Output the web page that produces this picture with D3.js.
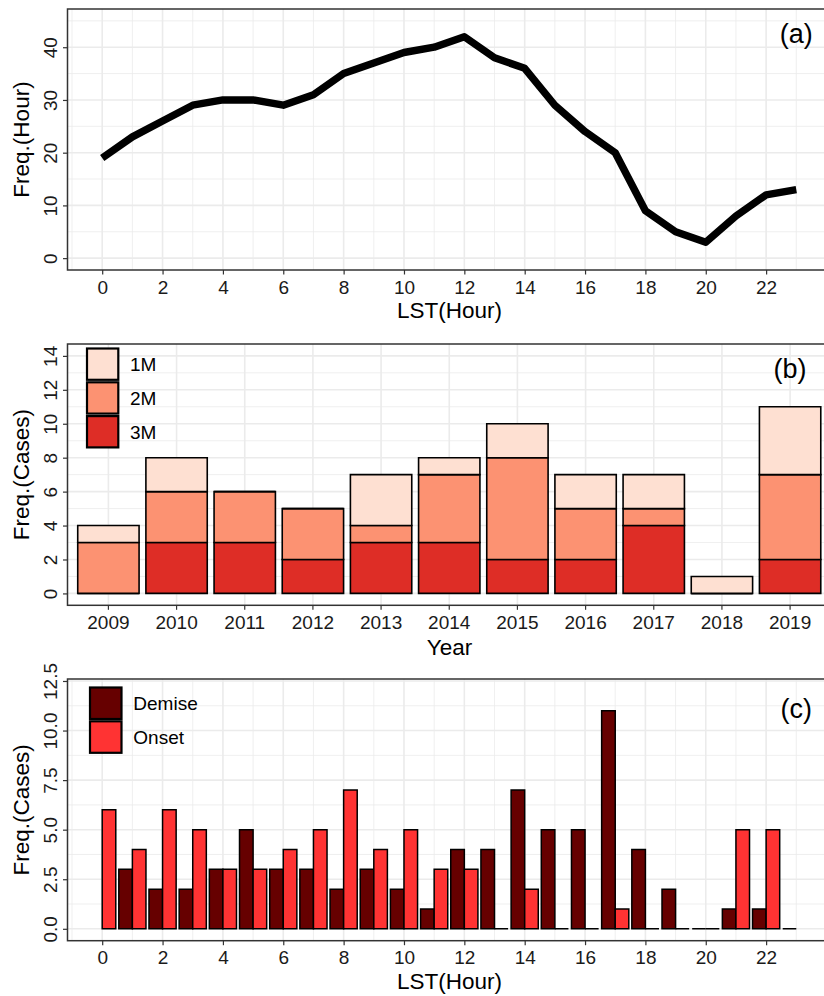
<!DOCTYPE html>
<html>
<head>
<meta charset="utf-8">
<script src="https://cdn.jsdelivr.net/npm/d3@7"></script>
<style>
  html, body { margin: 0; padding: 0; background: #fff; }
  svg { display: block; }
  text { font-family: "Liberation Sans", Arial, Helvetica, sans-serif; }
</style>
</head>
<body>
<svg id="chart" width="824" height="996"></svg>
<script>
// ---------------- DATA ----------------
// Panel (a): diurnal frequency (hours)
const lstHours = [0,1,2,3,4,5,6,7,8,9,10,11,12,13,14,15,16,17,18,19,20,21,22,23];
const freqHour = [19,23,26,29,30,30,29,31,35,37,39,40,42,38,36,29,24,20,9,5,3,8,12,13];
const hourTicks = [0,2,4,6,8,10,12,14,16,18,20,22];
const hourMinor = [-1,1,3,5,7,9,11,13,15,17,19,21,23,24];
const freqHourTicks = [0,10,20,30,40];
const freqHourMinor = [5,15,25,35,45];

// Panel (b): yearly cases, stacked by duration class
const years = ["2009","2010","2011","2012","2013","2014","2015","2016","2017","2018","2019"];
const cases1M = [1,2,0,0,3,1,2,2,2,1,4];
const cases2M = [3,3,3,3,1,4,6,3,1,0,5];
const cases3M = [0,3,3,2,3,3,2,2,4,0,2];
const stackKeys = ["3M","2M","1M"];          // bottom -> top
const legendKeysB = ["1M","2M","3M"];
const caseTicks = [0,2,4,6,8,10,12,14];
const caseMinor = [1,3,5,7,9,11,13];

// Panel (c): onset / demise counts by hour (null = not drawn)
const demiseCases = [null,3,2,2,3,5,3,3,2,3,2,1,4,4,7,5,5,11,4,2,0,1,1,0];
const onsetCases  = [6,4,6,5,3,3,4,5,7,4,5,3,3,0,2,0,0,1,0,0,0,5,5,null];
const groupsC = ["Demise","Onset"];
const caseTicksC = [0,2.5,5,7.5,10,12.5];
const caseMinorC = [1.25,3.75,6.25,8.75,11.25];

// ---------------- STYLE ----------------
const colors = { "1M":"#FEE0D2", "2M":"#FC9272", "3M":"#DE2D26", "Demise":"#660000", "Onset":"#FF3333" };
const L = 67.5, R = 831;
const tickFont = 19, titleFont = 22.5, labelFont = 27, legendFont = 19;
const textCol = "#1a1a1a";

const svg = d3.select("#chart");
svg.append("rect").attr("width",824).attr("height",996).attr("fill","#fff");

function panelFrame(g, top, bottom, xMajor, xMinor, xs, ys, yMajor, yMinor) {
  g.selectAll(".vmin").data(xMinor).join("line")
    .attr("x1", d => xs(d)).attr("x2", d => xs(d)).attr("y1", top).attr("y2", bottom)
    .attr("stroke", "#EBEBEB").attr("stroke-width", 0.8);
  g.selectAll(".hmin").data(yMinor).join("line")
    .attr("x1", L).attr("x2", R).attr("y1", d => ys(d)).attr("y2", d => ys(d))
    .attr("stroke", "#EBEBEB").attr("stroke-width", 0.8);
  g.selectAll(".vmaj").data(xMajor).join("line")
    .attr("x1", d => xs(d)).attr("x2", d => xs(d)).attr("y1", top).attr("y2", bottom)
    .attr("stroke", "#EBEBEB").attr("stroke-width", 1.6);
  g.selectAll(".hmaj").data(yMajor).join("line")
    .attr("x1", L).attr("x2", R).attr("y1", d => ys(d)).attr("y2", d => ys(d))
    .attr("stroke", "#EBEBEB").attr("stroke-width", 1.6);
}

function panelAxes(g, top, bottom, xAxisGen, yAxisGen, xTitle, yTitle, xTitleY) {
  const gx = g.append("g").attr("transform", `translate(0,${bottom})`).call(xAxisGen);
  gx.select(".domain").remove();
  gx.selectAll(".tick line").attr("stroke", "#333").attr("stroke-width", 1.2);
  gx.selectAll(".tick text").attr("y", 23.5).attr("dy", 0)
    .attr("font-size", tickFont).attr("fill", textCol).attr("font-family", "Liberation Sans, Arial, sans-serif");

  const gy = g.append("g").attr("transform", `translate(${L},0)`).call(yAxisGen);
  gy.select(".domain").remove();
  gy.selectAll(".tick line").attr("stroke", "#333").attr("stroke-width", 1.2);
  gy.selectAll(".tick text").attr("x", 0).attr("y", -10.5).attr("dy", 0)
    .attr("transform", "rotate(-90)").attr("text-anchor", "middle")
    .attr("font-size", tickFont).attr("fill", textCol).attr("font-family", "Liberation Sans, Arial, sans-serif");

  g.append("text").attr("x", 449.5).attr("y", xTitleY).attr("text-anchor", "middle")
    .attr("font-size", titleFont).attr("fill", "#000").text(xTitle);
  g.append("text").attr("transform", `translate(28.5,${(top + bottom) / 2}) rotate(-90)`)
    .attr("text-anchor", "middle").attr("font-size", titleFont).attr("fill", "#000").text(yTitle);
}

function border(g, top, bottom) {
  g.append("rect").attr("x", L).attr("y", top).attr("width", R - L).attr("height", bottom - top)
    .attr("fill", "none").attr("stroke", "#333").attr("stroke-width", 1.5);
}

function barPath(x0, x1, y0, y1) {
  return `M${x0},${y0}H${x1}V${y1}H${x0}Z`;
}

// ---------------- PANEL (a) ----------------
{
  const top = 9, bottom = 270;
  const g = svg.append("g");
  const x = d3.scaleLinear().domain([-1.15, 24.15]).range([L, R]);
  const y = d3.scaleLinear().domain([-2.25, 47.25]).range([bottom, top]);
  panelFrame(g, top, bottom, hourTicks, hourMinor, x, y, freqHourTicks, freqHourMinor);

  const line = d3.line().x((d, i) => x(lstHours[i])).y(d => y(d));
  g.append("path").datum(freqHour).attr("d", line)
    .attr("fill", "none").attr("stroke", "#000").attr("stroke-width", 7.4)
    .attr("stroke-linejoin", "round").attr("stroke-linecap", "butt");

  border(g, top, bottom);
  panelAxes(g, top, bottom,
    d3.axisBottom(x).tickValues(hourTicks).tickSize(4.5).tickFormat(d3.format("d")),
    d3.axisLeft(y).tickValues(freqHourTicks).tickSize(4.5).tickFormat(d3.format("d")),
    "LST(Hour)", "Freq.(Hour)", 317.5);
  g.append("text").attr("x", x(23)).attr("y", 43).attr("text-anchor", "middle")
    .attr("font-size", labelFont).attr("fill", "#000").text("(a)");
}

// ---------------- PANEL (b) ----------------
{
  const top = 344, bottom = 605.3;
  const g = svg.append("g");
  const x = d3.scaleBand().domain(years).range([L, R]).paddingInner(0.1).paddingOuter(0.15);
  const y = d3.scaleLinear().domain([-0.7, 14.7]).range([bottom, top]);
  const xc = d => x(d) + x.bandwidth() / 2;
  panelFrame(g, top, bottom, years, [], xc, y, caseTicks, caseMinor);

  const table = years.map((yr, i) => ({ year: yr, "1M": cases1M[i], "2M": cases2M[i], "3M": cases3M[i] }));
  const series = d3.stack().keys(stackKeys)(table);
  series.forEach(s => {
    g.append("g").selectAll("path").data(s).join("path")
      .attr("d", d => barPath(x(d.data.year), x(d.data.year) + x.bandwidth(), y(d[0]), y(d[1])))
      .attr("fill", colors[s.key]).attr("stroke", "#000").attr("stroke-width", 1.6);
  });

  border(g, top, bottom);
  panelAxes(g, top, bottom,
    d3.axisBottom(x).tickSize(4.5),
    d3.axisLeft(y).tickValues(caseTicks).tickSize(4.5).tickFormat(d3.format("d")),
    "Year", "Freq.(Cases)", 655);
  g.append("text").attr("x", xc("2019")).attr("y", 378).attr("text-anchor", "middle")
    .attr("font-size", labelFont).attr("fill", "#000").text("(b)");

  const lg = g.append("g");
  legendKeysB.forEach((k, i) => {
    const yy = 348.5 + i * 33.8;
    lg.append("rect").attr("x", 87).attr("y", yy).attr("width", 31.3).attr("height", 31.3)
      .attr("fill", colors[k]).attr("stroke", "#000").attr("stroke-width", 2.2);
    lg.append("text").attr("x", 130).attr("y", yy + 15.7 + 6.8)
      .attr("font-size", legendFont).attr("fill", "#000").text(k);
  });
}

// ---------------- PANEL (c) ----------------
{
  const top = 679, bottom = 940.7;
  const g = svg.append("g");
  const x = d3.scaleLinear().domain([-1.15, 24.15]).range([L, R]);
  const y = d3.scaleLinear().domain([-0.6, 12.6]).range([bottom, top]);
  panelFrame(g, top, bottom, hourTicks, hourMinor, x, y, caseTicksC, caseMinorC);

  const sub = d3.scaleBand().domain(groupsC).range([-0.45, 0.45]);
  const rows = [];
  lstHours.forEach((h, i) => {
    if (demiseCases[i] !== null) rows.push({ h, g: "Demise", v: demiseCases[i] });
    if (onsetCases[i] !== null) rows.push({ h, g: "Onset", v: onsetCases[i] });
  });
  g.append("g").selectAll("path").data(rows).join("path")
    .attr("d", d => barPath(x(d.h + sub(d.g)), x(d.h + sub(d.g) + sub.bandwidth()), y(0), y(d.v)))
    .attr("fill", d => colors[d.g]).attr("stroke", "#000").attr("stroke-width", 1.5);

  border(g, top, bottom);
  panelAxes(g, top, bottom,
    d3.axisBottom(x).tickValues(hourTicks).tickSize(4.5).tickFormat(d3.format("d")),
    d3.axisLeft(y).tickValues(caseTicksC).tickSize(4.5).tickFormat(d3.format(".1f")),
    "LST(Hour)", "Freq.(Cases)", 988.5);
  g.append("text").attr("x", x(23)).attr("y", 718).attr("text-anchor", "middle")
    .attr("font-size", labelFont).attr("fill", "#000").text("(c)");

  const lg = g.append("g");
  groupsC.forEach((k, i) => {
    const yy = 687.5 + i * 33.8;
    lg.append("rect").attr("x", 90).attr("y", yy).attr("width", 31.5).attr("height", 31.5)
      .attr("fill", colors[k]).attr("stroke", "#000").attr("stroke-width", 2.2);
    lg.append("text").attr("x", 133.3).attr("y", yy + 15.8 + 6.8)
      .attr("font-size", legendFont).attr("fill", "#000").text(k);
  });
}
</script>
</body>
</html>
